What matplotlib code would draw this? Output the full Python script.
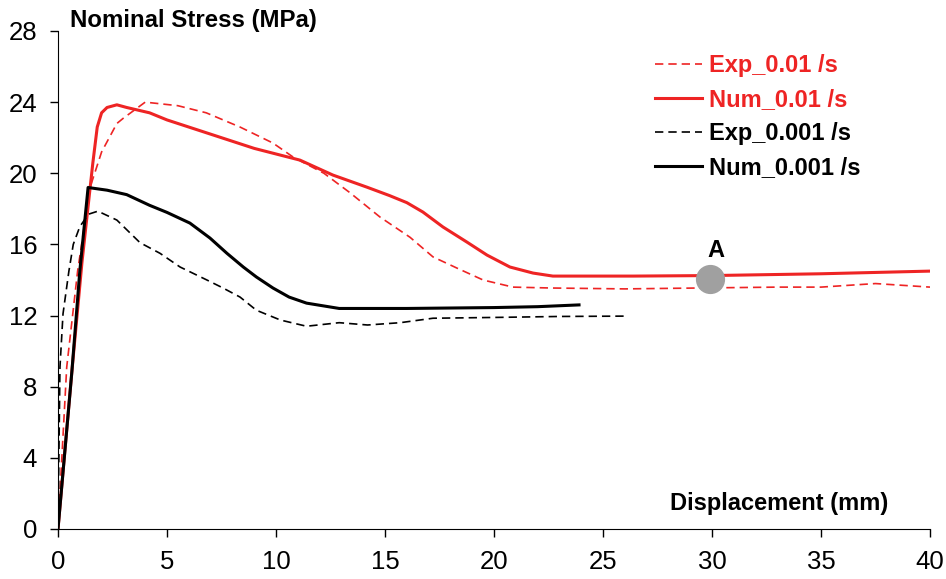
import numpy as np
import matplotlib
matplotlib.use("Agg")
import matplotlib.pyplot as plt

# data
exp_fast_x = [0, 0.4, 0.9, 1.47, 2.0, 2.7, 3.0, 4.0, 5.5, 6.8, 8.35, 9.86, 10.8, 12.2,
              13.4, 14.77, 16.15, 17.2, 18.3, 19.5, 20.87, 22.6, 26.0, 29.4, 33.0, 35.0, 37.5, 40.0]
exp_fast_y = [0, 9.1, 14.5, 19.2, 21.2, 22.8, 23.1, 24.0, 23.8, 23.4, 22.6, 21.7, 20.9, 20.0,
              18.9, 17.54, 16.4, 15.3, 14.67, 14.0, 13.6, 13.55, 13.5, 13.55, 13.6, 13.6, 13.8, 13.6]

num_fast_x = [0, 0.64, 1.1, 1.6, 1.8, 2.0, 2.25, 2.7, 3.15, 4.2, 5.0, 7.0, 9.0, 11.1, 12.61,
              14.17, 15.2, 16.0, 16.74, 17.66, 18.76, 19.68, 20.73, 21.79, 22.7, 26.4, 30.0, 35.0, 40.0]
num_fast_y = [0, 8.9, 15.0, 20.6, 22.6, 23.4, 23.7, 23.85, 23.7, 23.4, 23.0, 22.2, 21.4, 20.74, 19.9,
              19.22, 18.75, 18.35, 17.82, 16.98, 16.13, 15.4, 14.73, 14.39, 14.22, 14.22, 14.25, 14.35, 14.5]

exp_slow_x = [0, 0.09, 0.23, 0.5, 0.7, 1.0, 1.4, 1.83, 2.7, 3.76, 4.68, 5.6, 6.83, 7.57, 8.35,
              9.1, 10.2, 11.4, 12.9, 14.2, 15.7, 17.2, 20.3, 23.0, 26.1]
exp_slow_y = [0, 9.1, 12.1, 14.5, 16.0, 17.0, 17.7, 17.87, 17.37, 16.1, 15.5, 14.73, 14.0, 13.55, 13.04,
              12.3, 11.75, 11.4, 11.6, 11.47, 11.6, 11.85, 11.9, 11.95, 11.97]

num_slow_x = [0, 0.64, 1.0, 1.38, 2.25, 3.15, 4.2, 5.0, 6.05, 6.97, 7.75, 8.5, 9.1, 9.86,
              10.6, 11.4, 12.9, 16.0, 20.0, 22.0, 23.9]
num_slow_y = [0, 8.9, 14.5, 19.2, 19.05, 18.8, 18.2, 17.8, 17.2, 16.36, 15.5, 14.73, 14.17, 13.55,
              13.04, 12.7, 12.4, 12.4, 12.45, 12.5, 12.6]

point_a = (29.9, 14.05)

red = "#ee2424"
font = "Liberation Sans"

fig = plt.figure(figsize=(9.46, 5.79), dpi=100)
ax = fig.add_axes([58 / 946, 50 / 579, 872 / 946, 498 / 579])

ax.plot(exp_fast_x, exp_fast_y, color=red, lw=1.2, ls=(0, (5, 3)), label="Exp_0.01 /s")
ax.plot(num_fast_x, num_fast_y, color=red, lw=2.2, label="Num_0.01 /s")
ax.plot(exp_slow_x, exp_slow_y, color="black", lw=1.2, ls=(0, (5, 3)), label="Exp_0.001 /s")
ax.plot(num_slow_x, num_slow_y, color="black", lw=2.2, label="Num_0.001 /s")

ax.plot(*point_a, "o", color="#a0a0a0", ms=20, zorder=5)
ax.text(point_a[0] + 0.3, 15.3, "A", fontsize=17, fontweight="bold",
        ha="center", va="baseline", family=font)

ax.set_xlim(0, 40)
ax.set_ylim(0, 28)
ax.set_xticks(np.arange(0, 41, 5))
ax.set_yticks(np.arange(0, 29, 4))
for s in ["top", "right"]:
    ax.spines[s].set_visible(False)
ax.tick_params(direction="out", length=6, width=1, labelsize=18.5, pad=9)
for lab in ax.get_xticklabels() + ax.get_yticklabels():
    lab.set_family(font)

fig.text(70 / 946, 1 - 20 / 579, "Nominal Stress (MPa)", fontsize=17.3, fontweight="bold",
         ha="left", va="center", family=font)
ax.text(38.07, 1.07, "Displacement (mm)", fontsize=17, fontweight="bold",
        ha="right", va="baseline", family=font)

leg = ax.legend(loc="upper left", bbox_to_anchor=(655 / 946, 1 - 54 / 579),
                bbox_transform=fig.transFigure, frameon=False, borderpad=0, borderaxespad=0,
                prop={"family": font, "weight": "bold", "size": 17},
                handlelength=2.0, handletextpad=0.3, labelspacing=0.47)
for t, c in zip(leg.get_texts(), [red, red, "black", "black"]):
    t.set_color(c)

fig.savefig("out.png", dpi=100)
